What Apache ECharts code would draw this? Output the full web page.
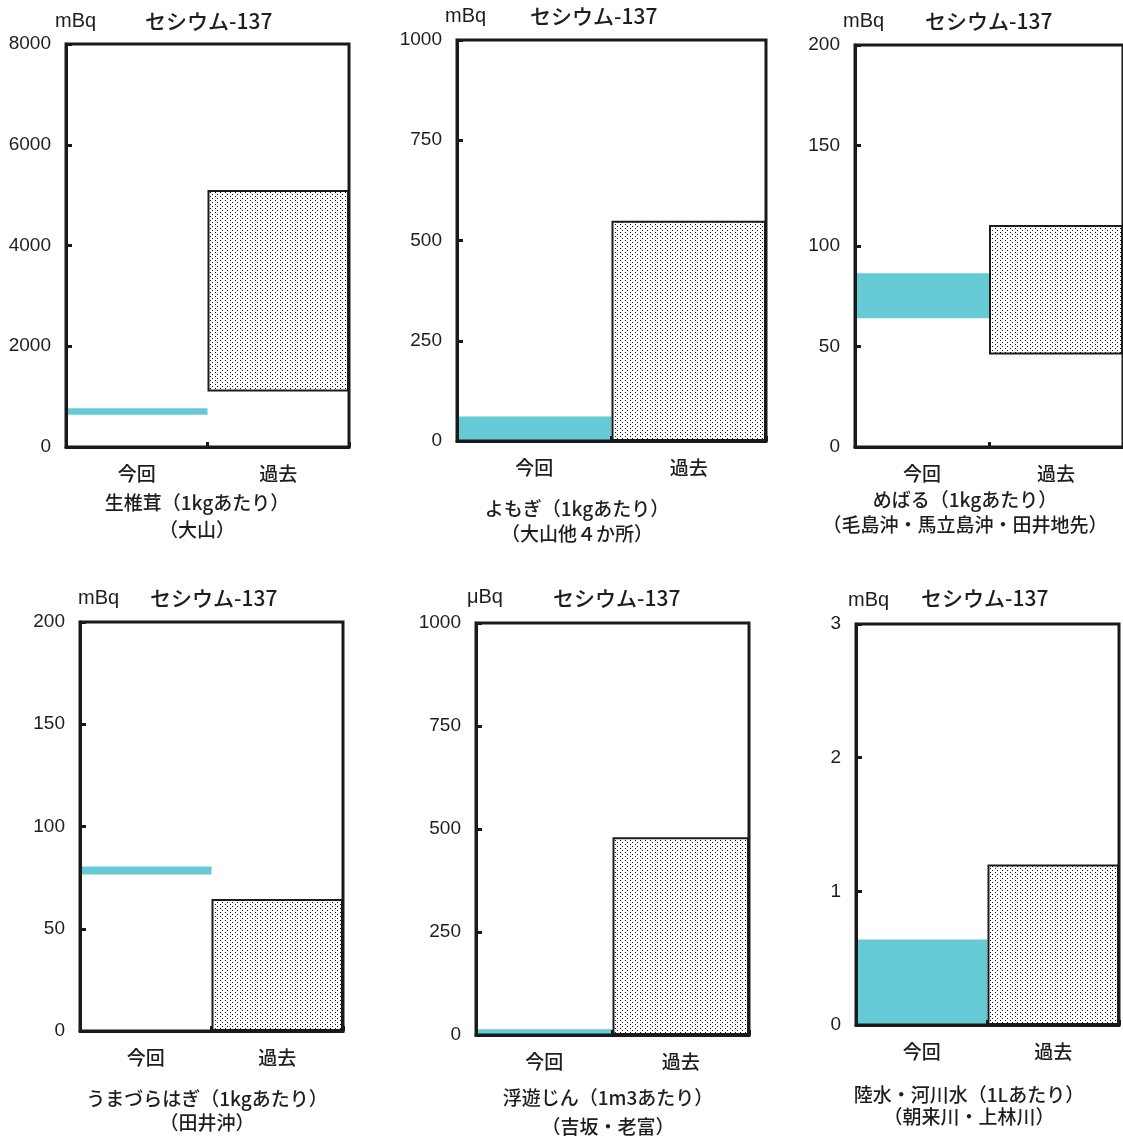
<!DOCTYPE html>
<html>
<head>
<meta charset="utf-8">
<script src="https://cdn.jsdelivr.net/npm/echarts@6/dist/echarts.min.js"></script>
<style>
html,body{margin:0;padding:0;background:#fff;}
#chart{width:1123px;height:1137px;}
</style>
</head>
<body>
<div id="chart"></div>
<script>
// ---- data ----
const categories = ['今回', '過去'];
const units = ['mBq', 'mBq', 'mBq', 'mBq', 'μBq', 'mBq'];
const nuclide = 'セシウム-137';
const subtitleLine1 = ['生椎茸（1kgあたり）', 'よもぎ（1kgあたり）', 'めばる（1kgあたり）', 'うまづらはぎ（1kgあたり）', '浮遊じん（1m3あたり）', '陸水・河川水（1Lあたり）'];
const subtitleLine2 = ['（大山）', '（大山他４か所）', '（毛島沖・馬立島沖・田井地先）', '（田井沖）', '（吉坂・老富）', '（朝来川・上林川）'];
const yTicks1 = [0, 2000, 4000, 6000, 8000];
const yTicks2 = [0, 250, 500, 750, 1000];
const yTicks3 = [0, 50, 100, 150, 200];
const yTicks4 = [0, 50, 100, 150, 200];
const yTicks5 = [0, 250, 500, 750, 1000];
const yTicks6 = [0, 1, 2, 3];
const currentLow  = [640, 0, 64, 76.5, 0, 0];
const currentHigh = [770, 61, 86.5, 80.5, 14, 0.64];
const pastLow  = [1100, 0, 46, 0, 0, 0];
const pastHigh = [5100, 549, 110.5, 64.5, 480, 1.2];

const yTicks = [yTicks1, yTicks2, yTicks3, yTicks4, yTicks5, yTicks6];

// ---- layout ----
const grids = [
  {left: 66,  top: 44,  width: 283, height: 403},
  {left: 457, top: 40,  width: 309, height: 401},
  {left: 855, top: 45,  width: 272, height: 402},
  {left: 80,  top: 622, width: 263, height: 409},
  {left: 476, top: 623, width: 273, height: 412},
  {left: 856, top: 624, width: 263, height: 401}
];
const unitPos  = [[55,21],[445,16],[843,21],[78,598],[467,597],[848,600]];
const titlePos = [[145,21],[530,16],[925,21],[150,598],[553,598],[921,598]];
const subPos   = [[197,503,530],[577,509,534],[965,500,525],[207,1099,1123],[608,1098,1127],[969,1095,1117]];

const CJK = '"Noto Sans CJK JP", "Noto Sans", sans-serif';
const NUM = '"Liberation Sans", Arial, sans-serif';
const INK = '#1a1a1a';
const TXT = '#1e1e1e';
const CYAN = '#66cad6';

// dotted pattern
const pat = document.createElement('canvas');
pat.width = 5; pat.height = 4;
const pctx = pat.getContext('2d');
pctx.fillStyle = '#ffffff';
pctx.fillRect(0, 0, 5, 4);
pctx.fillStyle = '#111111';
pctx.fillRect(0, 0, 1, 1);
pctx.fillRect(2, 2, 1, 1);

const gridOpt = [], xAxes = [], yAxes = [], series = [], graphics = [];
for (let i = 0; i < 6; i++) {
  const t = yTicks[i];
  gridOpt.push(Object.assign({show: true, borderColor: INK, borderWidth: 3, backgroundColor: 'transparent', z: 10}, grids[i]));
  xAxes.push({
    type: 'category', gridIndex: i, data: categories,
    axisLine: {show: true, lineStyle: {color: INK, width: 3}},
    axisTick: {show: true, inside: true, length: 5, lineStyle: {color: INK, width: 3}},
    axisLabel: {color: TXT, fontSize: 19, fontWeight: 500, fontFamily: CJK, margin: 17},
    splitLine: {show: false}, z: 10
  });
  yAxes.push({
    type: 'value', gridIndex: i, min: t[0], max: t[t.length - 1], interval: t[1] - t[0],
    axisLine: {show: true, lineStyle: {color: INK, width: 3}},
    axisTick: {show: true, inside: true, length: 6, lineStyle: {color: INK, width: 3}},
    axisLabel: {color: TXT, fontSize: 19, fontFamily: NUM, margin: 15, formatter: function (v) { return String(v); }},
    splitLine: {show: false}, z: 10
  });
  series.push({
    type: 'bar', xAxisIndex: i, yAxisIndex: i, stack: 's' + i, silent: true,
    barWidth: '100%', barCategoryGap: 0,
    itemStyle: {color: 'transparent'},
    data: [currentLow[i], pastLow[i]]
  });
  series.push({
    type: 'bar', xAxisIndex: i, yAxisIndex: i, stack: 's' + i, silent: true,
    barWidth: '100%', barCategoryGap: 0,
    data: [
      {value: currentHigh[i] - currentLow[i], itemStyle: {color: CYAN, borderWidth: 0}},
      {value: pastHigh[i] - pastLow[i], itemStyle: {color: {image: pat, repeat: 'repeat'}, borderColor: INK, borderWidth: 2}}
    ]
  });
  graphics.push({type: 'text', x: unitPos[i][0], y: unitPos[i][1],
    style: {text: units[i], font: '20px ' + NUM, fill: TXT, textVerticalAlign: 'middle'}});
  graphics.push({type: 'text', x: titlePos[i][0], y: titlePos[i][1],
    style: {text: nuclide, font: '500 21px ' + CJK, fill: TXT, textVerticalAlign: 'middle'}});
  graphics.push({type: 'text', x: subPos[i][0], y: subPos[i][1],
    style: {text: subtitleLine1[i], font: '500 19px ' + CJK, fill: TXT, textAlign: 'center', textVerticalAlign: 'middle'}});
  graphics.push({type: 'text', x: subPos[i][0], y: subPos[i][2],
    style: {text: subtitleLine2[i], font: '500 19px ' + CJK, fill: TXT, textAlign: 'center', textVerticalAlign: 'middle'}});
}

const chart = echarts.init(document.getElementById('chart'), null, {renderer: 'canvas'});
chart.setOption({
  backgroundColor: '#ffffff',
  animation: false,
  grid: gridOpt,
  xAxis: xAxes,
  yAxis: yAxes,
  series: series,
  graphic: graphics
});
</script>
</body>
</html>
